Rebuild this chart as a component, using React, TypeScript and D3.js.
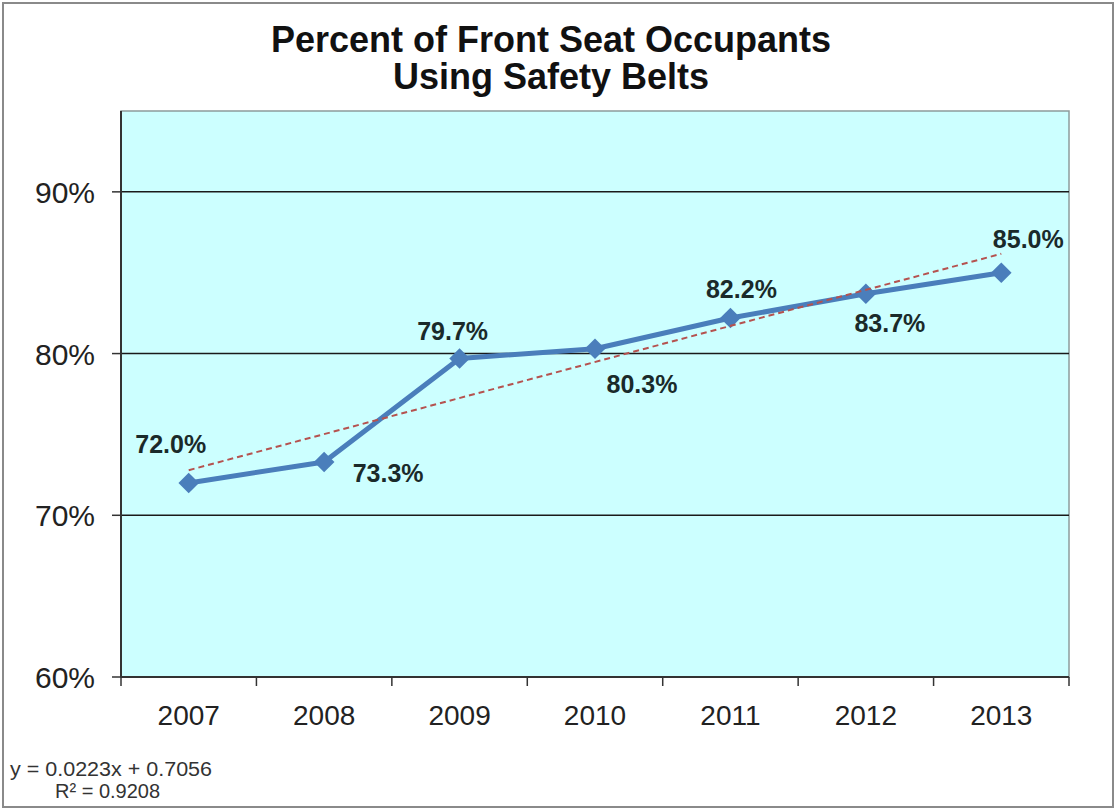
import React from "react";
import * as d3 from "d3";

const years = ["2007", "2008", "2009", "2010", "2011", "2012", "2013"];
const beltUse = [0.72, 0.733, 0.797, 0.803, 0.822, 0.837, 0.85];
const yTicks = [0.6, 0.7, 0.8, 0.9];
const trendSlope = 0.0223;
const trendIntercept = 0.7056;
const trendR2 = 0.9208;
// label placement relative to each point: [dx, dy]
const labelOffsets: [number, number][] = [
  [-18, -30],
  [64, 20],
  [-7, -18],
  [47, 44],
  [11, -20],
  [24, 38],
  [27, -25],
];

const W = 1115;
const H = 809;
const M = { left: 121, right: 1069, top: 111, bottom: 677 };
const FONT = "'Liberation Sans', Arial, sans-serif";

export default function App() {
  const x = d3.scaleBand<string>().domain(years).range([M.left, M.right]).padding(0);
  const y = d3.scaleLinear().domain([0.6, 0.95]).range([M.bottom, M.top]);
  const cx = (i: number) => (x(years[i]) as number) + x.bandwidth() / 2;

  const line = d3
    .line<number>()
    .x((_, i) => cx(i))
    .y((d) => y(d));

  const trendPts = years.map((_, i) => trendSlope * (i + 1) + trendIntercept);
  const trendEnds = [trendPts[0], trendPts[trendPts.length - 1]];
  const trendPath = d3
    .line<number>()
    .x((_, i) => (i === 0 ? cx(0) : cx(years.length - 1)))
    .y((d) => y(d))(trendEnds);

  const diamond = d3.symbol().type(d3.symbolDiamond2 ?? d3.symbolDiamond).size(270)();
  const fmt = d3.format(".1%");
  const tickFmt = d3.format(".0%");
  const boundaries = d3.range(years.length + 1).map((i) =>
    i < years.length ? (x(years[i]) as number) : M.right
  );

  return (
    <div style={{ position: "absolute", left: 0, top: 0 }}>
      <svg width={W} height={H} style={{ display: "block" }}>
        <rect x={0} y={0} width={W} height={H} fill="#ffffff" />
        <rect x={3} y={3} width={W - 5} height={H - 5} fill="none" stroke="#8a8a8a" strokeWidth={2} />
        {/* title */}
        <text x={551} y={52} textAnchor="middle" fontFamily={FONT} fontWeight="bold" fontSize={36} fill="#111">
          Percent of Front Seat Occupants
        </text>
        <text x={551} y={89} textAnchor="middle" fontFamily={FONT} fontWeight="bold" fontSize={36} fill="#111">
          Using Safety Belts
        </text>
        {/* plot area */}
        <rect
          x={M.left}
          y={M.top}
          width={M.right - M.left}
          height={M.bottom - M.top}
          fill="#ccffff"
          stroke="#8c9c9c"
          strokeWidth={1.5}
        />
        {/* gridlines */}
        {yTicks.slice(1).map((t) => (
          <line key={t} x1={M.left} x2={M.right} y1={y(t)} y2={y(t)} stroke="#1a1a1a" strokeWidth={1.5} />
        ))}
        {/* y axis */}
        <line x1={M.left} x2={M.left} y1={M.top} y2={M.bottom} stroke="#333" strokeWidth={2} />
        {yTicks.map((t) => (
          <g key={t}>
            <line x1={M.left - 9} x2={M.left} y1={y(t)} y2={y(t)} stroke="#333" strokeWidth={1.5} />
            <text
              x={95}
              y={y(t) + 11}
              textAnchor="end"
              fontFamily={FONT}
              fontSize={30}
              fill="#222"
            >
              {tickFmt(t)}
            </text>
          </g>
        ))}
        {/* x axis */}
        <line x1={M.left} x2={M.right} y1={M.bottom} y2={M.bottom} stroke="#333" strokeWidth={2} />
        {boundaries.map((b, i) => (
          <line key={i} x1={b} x2={b} y1={M.bottom} y2={M.bottom + 9} stroke="#333" strokeWidth={1.5} />
        ))}
        {years.map((yr, i) => (
          <text key={yr} x={cx(i)} y={725} textAnchor="middle" fontFamily={FONT} fontSize={28} fill="#222">
            {yr}
          </text>
        ))}
        {/* series line */}
        <path d={line(beltUse) || ""} fill="none" stroke="#4a7ebb" strokeWidth={5} strokeLinejoin="round" />
        {beltUse.map((v, i) => (
          <path key={i} d={diamond || ""} transform={`translate(${cx(i)},${y(v)})`} fill="#4a7ebb" />
        ))}
        {/* trendline */}
        <path d={trendPath || ""} fill="none" stroke="#b5524f" strokeWidth={2} strokeDasharray="6,4" />
        {/* data labels */}
        {beltUse.map((v, i) => (
          <text
            key={i}
            x={cx(i) + labelOffsets[i][0]}
            y={y(v) + labelOffsets[i][1]}
            textAnchor="middle"
            fontFamily={FONT}
            fontWeight="bold"
            fontSize={25}
            fill="#1a2a2a"
          >
            {fmt(v)}
          </text>
        ))}
        {/* trend equation */}
        <text x={10} y={776} fontFamily={FONT} fontSize={20} fill="#333" textLength={202} lengthAdjust="spacingAndGlyphs">
          {`y = ${trendSlope}x + ${trendIntercept}`}
        </text>
        <text x={55} y={798} fontFamily={FONT} fontSize={20} fill="#333">
          R² = {trendR2}
        </text>
      </svg>
    </div>
  );
}
